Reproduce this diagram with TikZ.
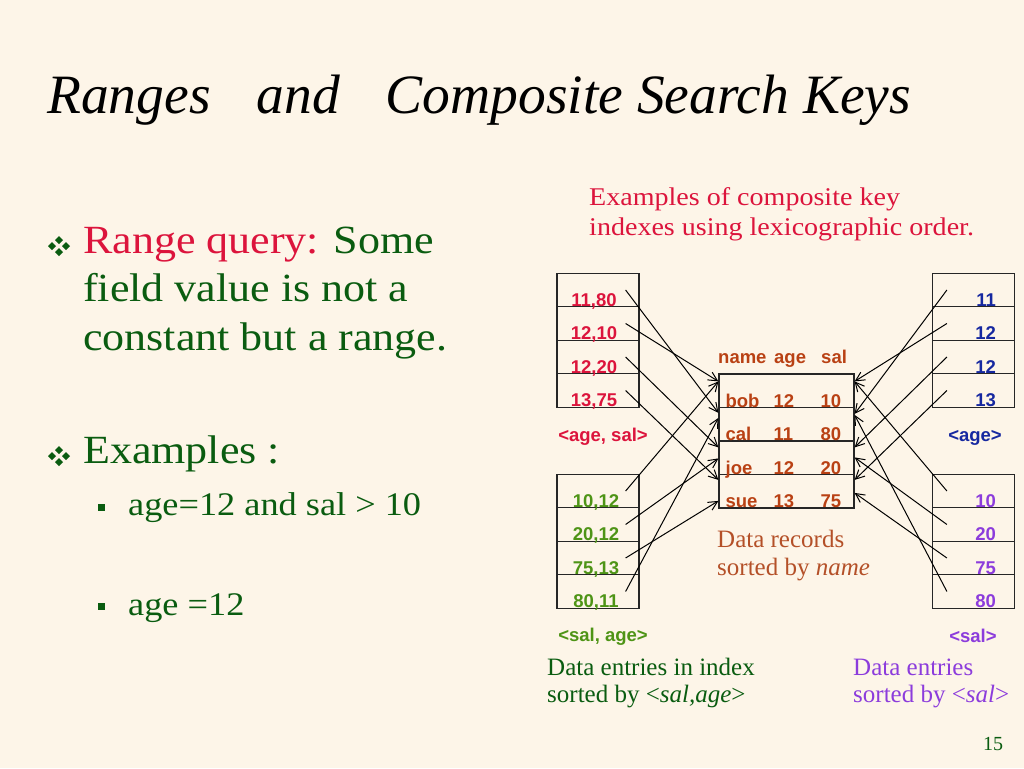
\documentclass[tikz,border=0pt]{standalone}
\usepackage{fontspec}
\setmainfont{Liberation Serif}
\setsansfont{Liberation Sans}
\newfontfamily\widefont{Liberation Serif}[FakeStretch=1.1]
\usetikzlibrary{calc,arrows.meta}
\definecolor{slidebg}{RGB}{253,245,232}
\definecolor{keyred}{RGB}{220,20,60}
\definecolor{dkgreen}{RGB}{10,92,16}
\definecolor{keygreen}{RGB}{78,148,22}
\definecolor{recbrown}{RGB}{185,65,20}
\definecolor{capbrown}{RGB}{180,80,40}
\definecolor{keyblue}{RGB}{22,40,160}
\definecolor{keypurple}{RGB}{140,60,220}
\begin{document}
\begin{tikzpicture}[x=1pt,y=-1pt,
  cell/.style={draw=black!85,line width=1.2pt,minimum width=82pt,minimum height=33.5pt,inner sep=0pt},
  recrow/.style={cell,minimum width=135pt},
  key/.style={font=\fontsize{18.5}{20}\selectfont\sffamily\bfseries,inner sep=0pt,anchor=base},
  captext/.style={font=\fontsize{25}{27.5}\selectfont,align=left,inner sep=0pt,anchor=base west},
  bullettext/.style={text=dkgreen,inner sep=0pt,anchor=base west},
  ptr/.style={-{Straight Barb[length=9pt,width=9pt]},line width=1pt}]

  \fill[slidebg] (0,0) rectangle (1024,768);
  \useasboundingbox (0,0) rectangle (1024,768);

  % title and bullets
  \node[anchor=base west,inner sep=0pt,font=\fontsize{55.5}{60}\selectfont\itshape] (title) at (47,113)
    {Ranges\hspace{46pt}and\hspace{46pt}Composite Search Keys};
  \node[bullettext,align=left,font=\widefont\fontsize{40}{48.5}\selectfont] (rangeq) at (83,350)
    {\textcolor{keyred}{Range query:} Some\\field value is not a\\constant but a range.};
  \node[bullettext,font=\widefont\fontsize{40}{44}\selectfont] (examples) at (83,463) {Examples :};
  \node[bullettext,font=\widefont\fontsize{33}{36}\selectfont] (ex1) at (128,515) {age=12 and sal > 10};
  \node[bullettext,font=\widefont\fontsize{33}{36}\selectfont] (ex2) at (128,615) {age =12};
  \foreach \by in {246,456}
    \foreach \dx/\dy in {-7/0,7/0,0/-6,0/6}
      \fill[dkgreen] (59+\dx,\by+\dy) +(-4,0) -- +(0,-4) -- +(4,0) -- +(0,4) -- cycle;
  \foreach \by in {507,606}
    \fill[dkgreen] (97.5,\by-3.5) rectangle +(7,7);

  % caption
  \node[captext,text=keyred,font=\widefont\fontsize{25.5}{30}\selectfont] (lexcap) at (589,235)
    {Examples of composite key\\indexes using lexicographic order.};

  % index and record boxes
  \foreach \i in {1,...,4} {
    \node[cell] (agesal\i) at (598,256.5+33.5*\i) {};
    \node[cell] (salage\i) at (598,457.5+33.5*\i) {};
    \node[cell] (age\i) at (973.5,256.5+33.5*\i) {};
    \node[cell] (sal\i) at (973.5,457.5+33.5*\i) {};
    \node[recrow] (rec\i) at (786.5,357.25+33.5*\i) {};
  }

  \foreach \k [count=\i] in {{11,80},{12,10},{12,20},{13,75}}
    \node[key,text=keyred] (agesalk\i) at ($(agesal\i.south)+(-4,-1)$) {\k};
  \foreach \k [count=\i] in {{10,12},{20,12},{75,13},{80,11}}
    \node[key,text=keygreen] (salagek\i) at ($(salage\i.south)+(-2,-1)$) {\k};
  \foreach \k [count=\i] in {11,12,12,13}
    \node[key,text=keyblue,anchor=base east] (agek\i) at ($(age\i.south east)+(-19,-1)$) {\k};
  \foreach \k [count=\i] in {10,20,75,80}
    \node[key,text=keypurple,anchor=base east] (salk\i) at ($(sal\i.south east)+(-19,-1)$) {\k};

  \node[key,text=recbrown,anchor=base west] (hname) at (718,363) {name};
  \node[key,text=recbrown,anchor=base west] (hage) at (774,363) {age};
  \node[key,text=recbrown,anchor=base west] (hsal) at (821,363) {sal};
  \foreach \n/\a/\s [count=\i] in {bob/12/10,cal/11/80,joe/12/20,sue/13/75} {
    \node[key,text=recbrown,anchor=base west] (recn\i) at ($(rec\i.south west)+(7,-1)$) {\n};
    \node[key,text=recbrown,anchor=base west] (reca\i) at ($(rec\i.south west)+(55,-1)$) {\a};
    \node[key,text=recbrown,anchor=base west] (recs\i) at ($(rec\i.south west)+(102,-1)$) {\s};
  }

  \node[key,text=keyred] (agesalname) at (603,441) {<age, sal>};
  \node[key,text=keygreen] (salagename) at (603,641) {<sal, age>};
  \node[key,text=keyblue] (agename) at (975,441) {<age>};
  \node[key,text=keypurple] (salname) at (973,642) {<sal>};

  % pointers into the records
  \foreach \s/\t/\d in {1/2/6,2/1/8,3/3/7,4/4/6}
    \draw[ptr] ($(agesal\s.east)+(-14,0)$) -- ($(rec\t.north west)+(0,\d)$);
  \foreach \s/\t/\d in {1/1/8,2/3/18,3/4/27,4/2/11}
    \draw[ptr] ($(salage\s.east)+(-14,0)$) -- ($(rec\t.north west)+(0,\d)$);
  \foreach \s/\t/\d in {1/2/7,2/1/8,3/3/7,4/4/6}
    \draw[ptr] ($(age\s.west)+(15,0)$) -- ($(rec\t.north east)+(0,\d)$);
  \foreach \s/\t/\d in {1/1/8,2/3/17,3/4/19,4/2/8}
    \draw[ptr] ($(sal\s.west)+(15,0)$) -- ($(rec\t.north east)+(0,\d)$);

  \node[captext,text=capbrown,font=\fontsize{25}{28}\selectfont] (reccap) at (717,575) {Data records\\sorted by \textit{name}};
  \node[captext,text=dkgreen,font=\fontsize{25}{27}\selectfont] (salagecap) at (547,702) {Data entries in index\\sorted by <\textit{sal,age}>};
  \node[captext,text=keypurple,font=\fontsize{25}{27}\selectfont] (salcap) at (853,702) {Data entries\\sorted by <\textit{sal}>};
  \node[anchor=base,inner sep=0pt,text=dkgreen,font=\fontsize{20}{22}\selectfont] (pageno) at (993,750) {15};
\end{tikzpicture}
\end{document}
